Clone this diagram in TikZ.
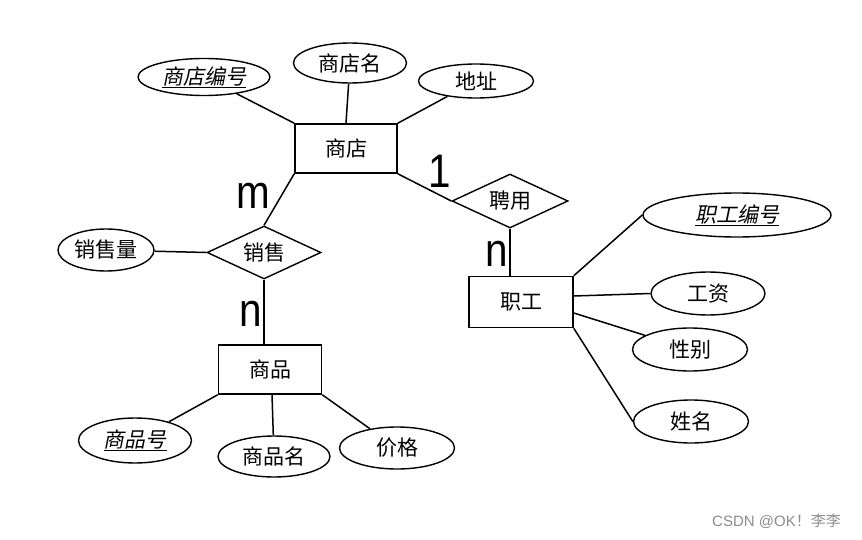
\documentclass[tikz,border=0pt]{standalone}
\usepackage{fontspec}
\usetikzlibrary{shapes.geometric}
\setmainfont{Liberation Sans}
\newfontfamily\cjk{Noto Sans CJK SC}
\newfontfamily\cjkit{Noto Sans CJK SC}[FakeSlant=0.2]
\begin{document}
\begin{tikzpicture}[x=1pt,y=-1pt,
  every node/.style={font=\cjk\fontsize{21}{24}\selectfont},
  ent/.style={draw,line width=1.6pt,rectangle,inner sep=0pt},
  attr/.style={draw,line width=1.4pt,ellipse,inner sep=0pt},
  rel/.style={draw,line width=1.4pt,diamond,aspect=2.15,inner sep=0pt},
  conn/.style={line width=1.5pt},
  card/.style={font=\fontsize{47}{50}\selectfont,inner sep=0pt,xscale=0.86}]
\useasboundingbox (0,0) rectangle (862,540);
% entities
\node[ent,minimum width=102pt,minimum height=49pt] (shop) at (346,148.5) {商店};
\node[ent,minimum width=104pt,minimum height=51pt] (emp) at (521,302) {职工};
\node[ent,minimum width=103pt,minimum height=49pt] (goods) at (270,369.5) {商品};
% relations
\node[rel,minimum width=116pt,minimum height=54pt] (hire) at (510,201) {聘用};
\node[rel,minimum width=114pt,minimum height=53pt] (sale) at (264,252.5) {销售};
% attributes
\node[attr,minimum width=132pt,minimum height=37pt] (sid) at (204,77) {\cjkit\underline{商店编号}};
\node[attr,minimum width=113pt,minimum height=40pt] (sname) at (350,63) {商店名};
\node[attr,minimum width=115pt,minimum height=34pt] (saddr) at (476,81) {地址};
\node[attr,minimum width=188pt,minimum height=44pt] (eid) at (737,215) {\cjkit\underline{职工编号}};
\node[attr,minimum width=114pt,minimum height=43pt] (esal) at (708,293.5) {工资};
\node[attr,minimum width=115pt,minimum height=43pt] (esex) at (690,349.5) {性别};
\node[attr,minimum width=115pt,minimum height=43pt] (ename) at (691,421.5) {姓名};
\node[attr,minimum width=96pt,minimum height=42pt] (qty) at (106,250) {销售量};
\node[attr,minimum width=113pt,minimum height=45pt] (gid) at (135,440.5) {\cjkit\underline{商品号}};
\node[attr,minimum width=112pt,minimum height=41pt] (gname) at (274,456.5) {商品名};
\node[attr,minimum width=115pt,minimum height=42pt] (gprice) at (397,448) {价格};
% connectors
\draw[conn] (shop.north west) -- (sid);
\draw[conn] (shop.north) -- (sname);
\draw[conn] (shop.north east) -- (saddr);
\draw[conn] (shop.south east) -- (hire.west);
\draw[conn] (hire.south) -- (hire.south |- emp.north);
\draw[conn] (emp.north east) -- (eid.west);
\draw[conn] ([yshift=6pt]emp.east) -- (esal.west);
\draw[conn] ([yshift=-11pt]emp.east) -- (esex);
\draw[conn] (emp.south east) -- (ename.west);
\draw[conn] (shop.south west) -- (sale.north);
\draw[conn] (sale.west) -- (qty);
\draw[conn] (sale.south) -- (sale.south |- goods.north);
\draw[conn] (goods.south west) -- (gid);
\draw[conn] ([xshift=2pt]goods.south) -- (gname);
\draw[conn] (goods.south east) -- (gprice);
% cardinalities
\node[card] (c1) at (440,171) {1};
\node[card] (cm) at (253,196) {m};
\node[card] (cn1) at (497,254) {n};
\node[card] (cn2) at (251,314) {n};
% watermark
\node[font=\fontsize{15}{17}\selectfont,text=black!45,anchor=west,inner sep=0pt] (wm) at (712,521) {CSDN @OK\cjk！李李};
\end{tikzpicture}
\end{document}
